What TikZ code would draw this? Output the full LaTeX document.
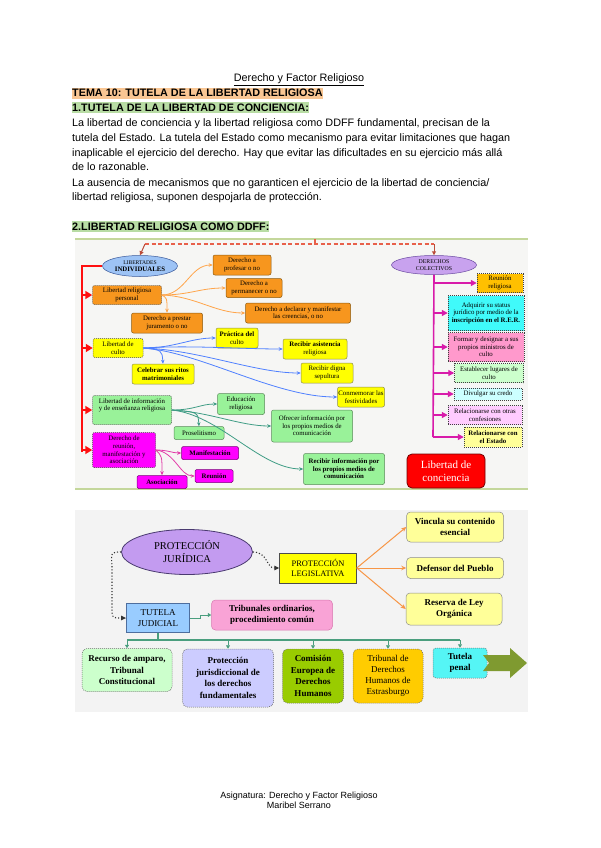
\documentclass[tikz,border=0pt]{standalone}
\usepackage{fontspec}
\setmainfont{Liberation Sans}
\newfontfamily\dserif{Liberation Serif}
\usetikzlibrary{arrows.meta,shapes.geometric,calc}
\definecolor{hlor}{HTML}{F9C693}
\definecolor{hlgr}{HTML}{B8DCA4}
\definecolor{bgA}{HTML}{F6F6F4}
\definecolor{bgB}{HTML}{F3F3F3}
\definecolor{gline}{HTML}{C4D79B}
\definecolor{orb}{HTML}{F7961E}
\definecolor{orbd}{HTML}{8A5A10}
\definecolor{ylb}{HTML}{FFFF00}
\definecolor{ylbd}{HTML}{8C8C50}
\definecolor{grb}{HTML}{99F299}
\definecolor{grbd}{HTML}{5A8A5A}
\definecolor{mgb}{HTML}{FF00FF}
\definecolor{mgbd}{HTML}{7A007A}
\definecolor{ellA}{HTML}{9DC3F5}
\definecolor{ellAd}{HTML}{3C5A9A}
\definecolor{ellB}{HTML}{C8A2EE}
\definecolor{ellBd}{HTML}{6A4AA0}
\definecolor{occ}{HTML}{FFA54A}
\definecolor{bcc}{HTML}{4F80FF}
\definecolor{tcc}{HTML}{3E9C84}
\definecolor{mcc}{HTML}{E23CA8}
\definecolor{rcc}{HTML}{FF1010}
\definecolor{mtr}{HTML}{D81BAA}
\definecolor{dsh}{HTML}{E8604A}
\definecolor{rrb}{HTML}{FFC000}
\definecolor{cyb}{HTML}{40FAFA}
\definecolor{pkb}{HTML}{FF99CC}
\definecolor{lgb}{HTML}{CCFFCC}
\definecolor{lcb}{HTML}{CCFFFF}
\definecolor{lpb}{HTML}{FFCCFF}
\definecolor{lyb}{HTML}{FFFF99}
\definecolor{pjf}{HTML}{C39BF0}
\definecolor{pjd}{HTML}{4A3A70}
\definecolor{tjf}{HTML}{99CCFF}
\definecolor{tjd}{HTML}{4E6E9E}
\definecolor{tof}{HTML}{F9A3D6}
\definecolor{tod}{HTML}{D878B0}
\definecolor{pdb}{HTML}{CCCCFF}
\definecolor{ceb}{HTML}{99CC00}
\definecolor{tdb}{HTML}{FFCC00}
\definecolor{tpb}{HTML}{55F5F5}
\definecolor{olv}{HTML}{7F9A30}
\definecolor{gcc}{HTML}{4A9E7E}
\definecolor{ocB}{HTML}{F79646}
\begin{document}
\begin{tikzpicture}[x=1pt,y=-1pt,
 bt/.style={anchor=base west, inner sep=0pt, font=\fontsize{10.8}{13}\selectfont},
 d1/.style={align=center, inner sep=0.5pt, font=\dserif\fontsize{6.8}{7.6}\selectfont, line width=0.5pt},
 sz/.style 2 args={minimum width=#1pt, minimum height=#2pt},
 obox/.style={d1, fill=orb, draw=orbd, rounded corners=2pt},
 ybox/.style={d1, fill=ylb, draw=ylbd, rounded corners=2pt},
 gbox/.style={d1, fill=grb, draw=grbd, rounded corners=2pt},
 mbox/.style={d1, fill=mgb, draw=mgbd, rounded corners=1.5pt},
 dbox/.style={d1, draw=black!75, dash pattern=on 1pt off 1pt},
 cn/.style={line width=0.8pt, -{Stealth[length=4pt,width=3.5pt]}},
 d2/.style={align=center, inner sep=0.5pt, font=\dserif\bfseries\fontsize{9}{11.4}\selectfont, line width=0.5pt},
 d2box/.style={d2, draw=black!60, dash pattern=on 1pt off 1pt, rounded corners=5pt},
 ga/.style={gcc, line width=1.2pt},
 gt/.style={gcc, line width=1pt, -{Triangle[length=3.5pt,width=4pt]}}
]
\useasboundingbox (0,0) rectangle (600,848);
\fill[white] (0,0) rectangle (600,848);

% ---------- header text ----------
\node[bt, anchor=base] (tit) at (299,82) {\underline{Derecho y Factor Religioso}};
\node[bt, fill=hlor, inner ysep=1.6pt] (tema) at (72,97) {\bfseries TEMA 10: TUTELA DE LA LIBERTAD RELIGIOSA};
\node[bt, fill=hlgr, inner ysep=1.6pt] (h1) at (72,111.6) {\bfseries 1.TUTELA DE LA LIBERTAD DE CONCIENCIA:};
\node[bt] (l1) at (72,126.3) {La libertad de conciencia y la libertad religiosa como DDFF fundamental, precisan de la};
\node[bt] (l2) at (72,141.4) {tutela del Estado. La tutela del Estado como mecanismo para evitar limitaciones que hagan};
\node[bt] (l3) at (72,156.4) {inaplicable el ejercicio del derecho. Hay que evitar las dificultades en su ejercicio más allá};
\node[bt] (l4) at (72,170.6) {de lo razonable.};
\node[bt] (l5) at (72,186.1) {La ausencia de mecanismos que no garanticen el ejercicio de la libertad de conciencia/};
\node[bt] (l6) at (72,200.3) {libertad religiosa, suponen despojarla de protección.};
\node[bt, fill=hlgr, inner ysep=1.6pt] (h2) at (72,230.5) {\bfseries 2.LIBERTAD RELIGIOSA COMO DDFF:};

% ---------- diagram 1 ----------
\fill[bgA] (75,239) rectangle (528,489);
\draw[gline, line width=1.4pt] (75,239) -- (528,239);
\draw[gline, line width=1.4pt] (75,489) -- (528,489);

\node[d1, ellipse, fill=ellA, draw=ellAd, inner sep=0pt, sz={75}{21}] (e1) at (140,266) {{\fontsize{5.6}{6.4}\selectfont LIBERTADES}\\{\fontsize{6.8}{7.4}\selectfont\bfseries INDIVIDUALES}};
\node[d1, ellipse, fill=ellB, draw=ellBd, inner sep=0pt, sz={85}{19}] (e2) at (434,265) {{\fontsize{5.8}{6.4}\selectfont DERECHOS}\\{\fontsize{5.8}{6.4}\selectfont COLECTIVOS}};

% dashed top connector
\coordinate (ta) at (145,244);
\coordinate (tb) at (434,244);
\coordinate (tc) at (315,239);
\coordinate (td) at (315,244);
\draw[dsh, line width=1.3pt, dash pattern=on 4pt off 2.5pt] (ta) -- (tb);
\draw[dsh!80!black, line width=1pt, -{Triangle[length=4pt,width=4pt]}] (ta) -- (e1.north);
\draw[dsh!80!black, line width=1pt, -{Triangle[length=4pt,width=4pt]}] (tb) -- (e2.north);
\draw[dsh, line width=1.3pt] (tc) -- (td);

% left boxes
\node[obox, dbox, fill=orb, sz={69}{19}] (lrp) at (127,295) {Libertad religiosa\\personal};
\node[obox, sz={71}{20}] (dpj) at (167,323) {Derecho a prestar\\juramento o no};
\node[obox, sz={58}{20}] (dpo) at (242,265) {Derecho a\\profesar o no};
\node[obox, sz={56}{19}] (dpm) at (254,288) {Derecho a\\permanecer o no};
\node[obox, sz={105}{20}] (ddm) at (298,313) {Derecho a declarar y manifestar\\las creencias, o no};

\node[ybox, dbox, fill=ylb, sz={50}{19}] (lc) at (118,348) {Libertad de\\culto};
\node[ybox, sz={42}{20}] (pc) at (237,338) {\textbf{Práctica del}\\culto};
\node[ybox, sz={64}{20}] (rar) at (315,349) {\textbf{Recibir asistencia}\\religiosa};
\node[ybox, sz={52}{20}] (rds) at (327,373) {Recibir digna\\sepultura};
\node[ybox, sz={47}{20}] (clf) at (361,397) {Conmemorar las\\festividades};
\node[ybox, sz={62}{20}] (csr) at (163,374) {\textbf{Celebrar sus ritos}\\\textbf{matrimoniales}};

\node[gbox, dbox, fill=grb, sz={79}{29}] (lie) at (132,410) {};
\node[d1, anchor=north] (liet) at (132,397.5) {Libertad de información\\y de enseñanza religiosa};
\node[gbox, sz={47}{21}] (er) at (241,404) {Educación\\religiosa};
\node[gbox, sz={81}{32}] (oi) at (312,426) {Ofrecer información por\\los propios medios de\\comunicación};
\node[gbox, sz={50}{13}] (pro) at (199,433) {Proselitismo};
\node[gbox, sz={81}{31}] (ri) at (344,469) {\textbf{Recibir información por}\\\textbf{los propios medios de}\\\textbf{comunicación}};

\node[mbox, dbox, fill=mgb, sz={63}{35}] (drm) at (124,450) {Derecho de\\reunión,\\manifestación y\\asociación};
\node[mbox, sz={57}{13}] (man) at (210,453) {\textbf{Manifestación}};
\node[mbox, sz={38}{13}] (reu) at (214,476) {\textbf{Reunión}};
\node[mbox, sz={50}{13}] (aso) at (162,482) {\textbf{Asociación}};

% red trunk
\coordinate (rt) at (82,266);
\coordinate (rb) at (82,452);
\coordinate (r1) at (82,295);
\coordinate (r2) at (82,348);
\coordinate (r3) at (82,410);
\coordinate (r4) at (82,450);
\draw[rcc, line width=2.3pt] (e1.west) -- (rt) -- (rb);
\foreach \c/\n in {r1/lrp, r2/lc, r3/lie, r4/drm}
  \draw[rcc, line width=2pt, -{Triangle[length=7pt,width=8pt]}] (\c) -- (\n.west);

% orange connectors
\draw[occ, cn] (lrp.east) .. controls (185,295) and (190,265) .. (dpo.west);
\draw[occ, cn] (lrp.east) .. controls (190,295) and (200,288) .. (dpm.west);
\draw[occ, cn] (lrp.east) .. controls (195,296) and (215,313) .. (ddm.west);
\draw[occ, cn] (lrp.east) .. controls (167,298) .. (dpj.north);
% blue connectors
\draw[bcc, cn] (lc.east) .. controls (175,348) and (190,338) .. (pc.west);
\draw[bcc, cn] (lc.east) .. controls (190,345) and (240,349) .. (rar.west);
\draw[bcc, cn] (lc.east) .. controls (200,350) and (255,373) .. (rds.west);
\draw[bcc, cn] (lc.east) .. controls (200,352) and (275,397) .. (clf.west);
\draw[bcc, cn] (lc.east) .. controls (162,350) .. (csr.north);
% teal connectors
\draw[tcc, cn] (lie.east) .. controls (195,410) and (200,404) .. (er.west);
\draw[tcc, cn] (lie.east) .. controls (210,412) and (240,426) .. (oi.west);
\draw[tcc, cn] (lie.east) .. controls (220,415) and (260,469) .. (ri.west);
\draw[tcc, cn] (lie.east) .. controls (198,412) .. (pro.north);
% magenta connectors
\draw[mcc, cn] (drm.east) .. controls (168,450) and (172,453) .. (man.west);
\draw[mcc, cn] (drm.east) .. controls (175,452) and (180,476) .. (reu.west);
\draw[mcc, cn] (drm.east) .. controls (162,456) .. (aso.north);

% right column
\node[d1, dbox, fill=rrb, sz={46}{19}] (rr) at (500,283) {Reunión\\religiosa};
\node[d1, dbox, fill=cyb, sz={76}{35}] (ad) at (486,313) {Adquirir su status\\jurídico por medio de la\\\textbf{inscripción en el R.E.R.}};
\node[d1, dbox, fill=pkb, sz={76}{29}] (fd) at (486,347) {Formar y designar a sus\\propios ministros de\\culto};
\node[d1, dbox, fill=lgb, sz={69}{19}] (el) at (489,373) {Establecer lugares de\\culto};
\node[d1, dbox, fill=lcb, sz={68}{12}] (dc) at (488,394) {Divulgar su credo};
\node[d1, dbox, fill=lpb, sz={74}{19}] (ro) at (485,415) {Relacionarse con otras\\confesiones};
\node[d1, dbox, fill=lyb, sz={58}{20}] (re) at (493,437) {\textbf{Relacionarse con}\\\textbf{el Estado}};

\coordinate (mb) at (433,437);
\draw[mtr, line width=1.6pt] (e2.south) -- (mb);
\foreach \n/\yy in {rr/283, ad/313, fd/347, el/373, dc/394, ro/415, re/437}{
  \coordinate (m\n) at (433,\yy);
  \draw[mtr, line width=1.3pt, -{Triangle[length=6pt,width=6pt]}] (m\n) -- (\n.west);
}

\node[align=center, inner sep=0pt, fill=red, draw=red!45!black, line width=0.8pt, rounded corners=5pt, sz={78}{34}, text=white, font=\dserif\fontsize{11}{12.5}\selectfont] (lco) at (446,471) {Libertad de\\conciencia};

% ---------- diagram 2 ----------
\fill[bgB] (75,510) rectangle (528,712);

\node[ellipse, fill=pjf, draw=pjd, line width=0.8pt, sz={131}{45}, inner sep=0pt, align=center, font=\dserif\fontsize{10.5}{13}\selectfont] (pj) at (187,552) {PROTECCIÓN\\JURÍDICA};
\node[d2, fill=ylb, draw=black!70, sz={77}{30}, font=\dserif\fontsize{8.4}{10.5}\selectfont] (pl) at (318,568) {PROTECCIÓN\\LEGISLATIVA};
\node[d2, fill=tjf, draw=tjd, line width=0.8pt, sz={63}{29}, font=\dserif\fontsize{9}{11}\selectfont] (tj) at (158,618) {TUTELA\\JUDICIAL};
\node[d2, fill=tof, draw=tod, rounded corners=4pt, sz={121}{30}] (to) at (272,615) {Tribunales ordinarios,\\procedimiento común};

\node[d2, fill=lyb, draw=black!45, rounded corners=4pt, sz={97}{30}] (vc) at (455,527) {Vincula su contenido\\esencial};
\node[d2, fill=lyb, draw=black!45, rounded corners=4pt, sz={97}{21}] (dp) at (455,568) {Defensor del Pueblo};
\node[d2, fill=lyb, draw=black!45, rounded corners=4pt, sz={96}{32}] (rlo) at (454,609) {Reserva de Ley\\Orgánica};

\draw[ocB, line width=1pt, -{Stealth[length=5pt,width=4.5pt]}] (pl.east) -- (vc.west);
\draw[ocB, line width=1pt, -{Stealth[length=5pt,width=4.5pt]}] (pl.east) -- (dp.west);
\draw[ocB, line width=1pt, -{Stealth[length=5pt,width=4.5pt]}] (pl.east) -- (rlo.west);

\draw[black!80, line width=1.1pt, dotted, -{Triangle[length=5pt,width=4.5pt]}] (pj.east) .. controls (268,552) and (266,568) .. (pl.west);
\draw[black!80, line width=1.1pt, dotted, -{Triangle[length=5pt,width=4.5pt]}] (pj.west) .. controls (111,552) .. (112,566) -- (112,608) .. controls (112,618) .. (tj.west);

\coordinate (gk) at (200,618);
\draw[gt] (tj.east) -- (gk) |- (to.west);

\node[d2box, fill=lgb, sz={90}{43}] (ra) at (127,670) {Recurso de amparo,\\Tribunal\\Constitucional};
\node[d2box, fill=pdb, sz={91}{58}] (pjx) at (228,678) {Protección\\jurisdiccional de\\los derechos\\fundamentales};
\node[d2box, fill=ceb, sz={61}{54}] (ce) at (313,676) {Comisión\\Europea de\\Derechos\\Humanos};
\node[d2box, fill=tdb, sz={70}{54}, font=\dserif\fontsize{9}{11.2}\selectfont] (tdh) at (388,676) {Tribunal de\\Derechos\\Humanos de\\Estrasburgo};
\node[d2box, fill=tpb, rounded corners=3pt, sz={54}{30}] (tp) at (460,663) {Tutela\\penal};

\coordinate (hv) at (158,640);
\coordinate (hl) at (127,640);
\coordinate (hr) at (460,640);
\draw[ga] (tj.south) -- (hv);
\draw[ga] (hl) -- (hr);
\foreach \x/\n in {127/ra, 228/pjx, 313/ce, 388/tdh, 460/tp}{
  \coordinate (k\n) at (\x,640);
  \draw[gt] (k\n) -- (\n.north);
}

\fill[olv] (483,655) -- (510,655) -- (510,648) -- (527,663) -- (510,678) -- (510,671) -- (483,671) -- (489,663) -- cycle;

% ---------- footer ----------
\node[anchor=base, inner sep=0pt, font=\fontsize{9}{10}\selectfont] (f1) at (299,798) {Asignatura: Derecho y Factor Religioso};
\node[anchor=base, inner sep=0pt, font=\fontsize{9}{10}\selectfont] (f2) at (299,808.5) {Maribel Serrano};
\end{tikzpicture}
\end{document}
